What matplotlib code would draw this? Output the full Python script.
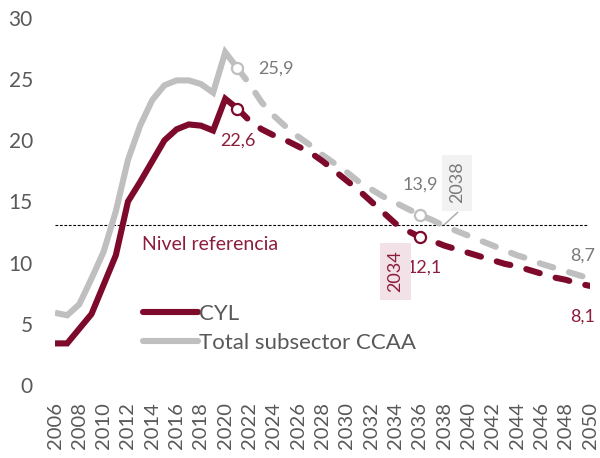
import matplotlib
matplotlib.use("Agg")
import matplotlib.pyplot as plt
from matplotlib.lines import Line2D

years = list(range(2006, 2051))
cyl = [3.4, 3.4, 4.6, 5.8, 8.2, 10.6, 15.0, 16.6, 18.3, 20.0, 20.9, 21.3, 21.2, 20.8, 23.4, 22.6,
       21.6, 20.9, 20.4, 20.0, 19.5, 19.0, 18.3, 17.5, 16.7, 15.9, 15.0, 14.1, 13.2, 12.6, 12.1,
       11.8, 11.4, 11.1, 10.8, 10.5, 10.2, 9.9, 9.7, 9.4, 9.1, 8.8, 8.6, 8.3, 8.1]
ccaa = [5.9, 5.7, 6.6, 8.7, 10.9, 14.2, 18.4, 21.2, 23.3, 24.5, 24.9, 24.9, 24.6, 23.9, 27.2, 25.9,
        24.6, 23.1, 22.0, 21.1, 20.3, 19.6, 18.8, 18.1, 17.4, 16.6, 16.0, 15.4, 14.9, 14.4, 13.9,
        13.5, 13.0, 12.6, 12.2, 11.8, 11.4, 11.0, 10.6, 10.3, 9.9, 9.6, 9.3, 9.0, 8.7]
last_real = 2021
mark_years = [2021, 2036]
ref_level = 13.1
cross_cyl = 2034
cross_ccaa = 2038

RED = "#7d0a2b"
RED_TXT = "#8c1d3c"
GRAY = "#bfbfbf"
GRAY_TXT = "#7a7a7a"
AX_TXT = "#595959"

plt.rcParams['font.family'] = ['Lato', 'DejaVu Sans']

fig = plt.figure(figsize=(6, 4.58), dpi=100)
ax = fig.add_axes([0.0917, 0.1594, 0.8917, 0.8013])

i = years.index(last_real)
lw = 4.4
for vals, col in [(ccaa, GRAY), (cyl, RED)]:
    ax.plot(years[:i + 1], vals[:i + 1], color=col, lw=lw, solid_capstyle='butt',
            solid_joinstyle='miter', zorder=3)
    ax.plot(years[i:], vals[i:], color=col, lw=lw, dashes=(2.3, 2.7),
            dash_capstyle='round', zorder=3)
    for y in mark_years:
        ax.plot(y, vals[years.index(y)], 'o', ms=8, mfc='white', mec=col, mew=1.6, zorder=4)

ax.axhline(ref_level, xmin=0, xmax=0.995, color='black', lw=0.8, dashes=(2.5, 1.5), zorder=2)
ax.text(2013.15, 11.45, "Nivel referencia", color=RED_TXT, fontsize=14, va='center', ha='left')

# data labels
ax.text(2022.7, 25.9, "25,9", color=GRAY_TXT, fontsize=13, va='center', ha='left')
ax.text(2021, 20.0, "22,6", color=RED_TXT, fontsize=13, va='center', ha='center')
ax.text(2036, 16.35, "13,9", color=GRAY_TXT, fontsize=13, va='center', ha='center')
ax.text(2034.9, 9.6, "12,1", color=RED_TXT, fontsize=13, va='center', ha='left')
ax.text(2050.4, 10.6, "8,7", color=GRAY_TXT, fontsize=13, va='center', ha='right')
ax.text(2050.4, 5.55, "8,1", color=RED_TXT, fontsize=13, va='center', ha='right')

# crossing year boxes
ax.text(cross_cyl, 9.28, str(cross_cyl), rotation=90, color=RED_TXT, fontsize=13,
        ha='center', va='center', bbox=dict(boxstyle='square,pad=0.4', fc='#f2e1e6', ec='none'))
ax.text(cross_ccaa + 1.05, 16.55, str(cross_ccaa), rotation=90, color=GRAY_TXT, fontsize=13,
        ha='center', va='center', bbox=dict(boxstyle='square,pad=0.4', fc='#f2f2f2', ec='none'))
ax.plot([cross_ccaa + 1.1, cross_ccaa], [14.1, ref_level], color='#a6a6a6', lw=1, zorder=2)

handles = [Line2D([], [], color=RED, lw=lw, solid_capstyle='round'),
           Line2D([], [], color=GRAY, lw=lw, solid_capstyle='round')]
ax.legend(handles, ["CYL", "Total subsector CCAA"], loc='center left',
          bbox_to_anchor=(0.143, 0.155), frameon=False, fontsize=16, handlelength=2.5,
          handletextpad=0.05, labelspacing=0.4, borderpad=0, labelcolor=AX_TXT)

ax.set_xlim(2006, 2050)
ax.set_ylim(0, 30)
ax.set_yticks(range(0, 31, 5))
ax.set_xticks(years[::2])
ax.set_xticklabels([str(y) for y in years[::2]], rotation=90, fontsize=14.5)
ax.tick_params(axis='y', length=0, pad=16, labelsize=15, labelcolor=AX_TXT)
ax.tick_params(axis='x', length=0, pad=12, labelcolor=AX_TXT)
for s in ax.spines.values():
    s.set_visible(False)

fig.savefig("out.png", dpi=100)
